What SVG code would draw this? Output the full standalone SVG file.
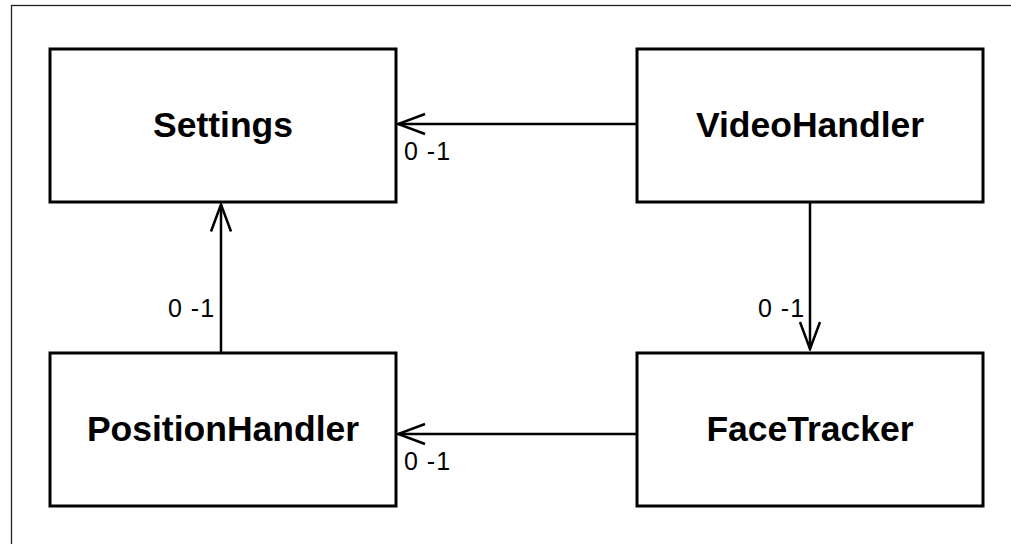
<svg xmlns="http://www.w3.org/2000/svg" width="1011" height="544" viewBox="0 0 1011 544">
  <style>
    .box { fill: #ffffff; stroke: #000000; stroke-width: 3; }
    .name { font-family: "Liberation Sans", Arial, sans-serif; font-weight: bold; font-size: 35.5px; fill: #000000; text-anchor: middle; }
    .edge { fill: none; stroke: #000000; stroke-width: 2.5; }
    .mult { font-family: "Liberation Sans", Arial, sans-serif; font-size: 25px; letter-spacing: 1px; fill: #000000; }
  </style>
  <defs>
    <!-- open V arrowhead for navigable associations -->
    <marker id="open" viewBox="0 0 30 24" refX="28" refY="12" markerWidth="30" markerHeight="24" markerUnits="userSpaceOnUse" orient="auto">
      <path d="M1,2 L28,12 L1,22" fill="none" stroke="#000000" stroke-width="2.5"/>
    </marker>
  </defs>

  <rect width="1011" height="544" fill="#ffffff"/>
  <!-- frame -->
  <rect x="11.5" y="5.5" width="1100" height="600" fill="none" stroke="#222222" stroke-width="1.3"/>

  <g id="connectors">
    <line class="edge" x1="637" y1="124" x2="398" y2="124" marker-end="url(#open)"/>
    <text class="mult" x="404" y="160">0 -1</text>

    <line class="edge" x1="221" y1="352" x2="221" y2="204.5" marker-end="url(#open)"/>
    <text class="mult" x="168" y="317">0 -1</text>

    <line class="edge" x1="810" y1="203" x2="810" y2="349" marker-end="url(#open)"/>
    <text class="mult" x="758" y="317">0 -1</text>

    <line class="edge" x1="637" y1="434" x2="398" y2="434" marker-end="url(#open)"/>
    <text class="mult" x="404" y="470">0 -1</text>
  </g>

  <g id="settings">
    <rect class="box" x="50" y="49" width="346" height="153"/>
    <text class="name" x="223" y="137">Settings</text>
  </g>
  <g id="videohandler">
    <rect class="box" x="637" y="49" width="346" height="153"/>
    <text class="name" x="810" y="137">VideoHandler</text>
  </g>
  <g id="positionhandler">
    <rect class="box" x="50" y="353" width="346" height="153"/>
    <text class="name" x="223" y="441">PositionHandler</text>
  </g>
  <g id="facetracker">
    <rect class="box" x="637" y="353" width="346" height="153"/>
    <text class="name" x="810" y="441">FaceTracker</text>
  </g>
</svg>
